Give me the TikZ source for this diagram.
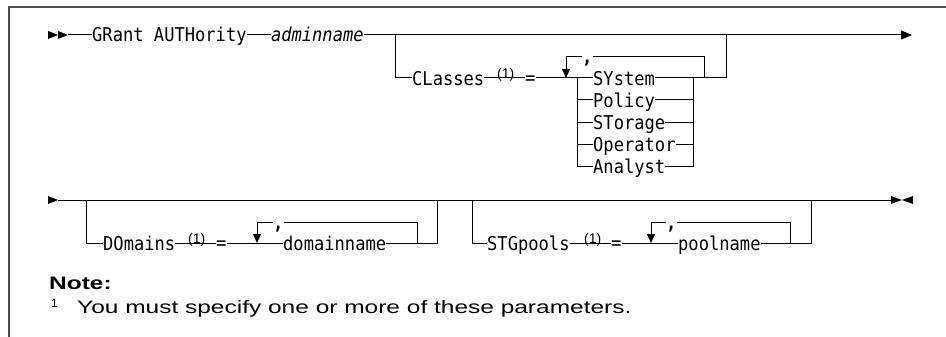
\documentclass[tikz,border=0pt]{standalone}
\usepackage{fontspec}
\usepackage{tikz}
\usetikzlibrary{arrows.meta,positioning}
\newfontfamily\synfont[FakeStretch=0.9]{DejaVu Sans Mono}
\newfontfamily\notefont[FakeStretch=1.36]{Liberation Sans}
\newfontfamily\reffont{Liberation Sans}

\begin{document}
\begin{tikzpicture}[x=1pt,y=1pt,
kw/.style={inner sep=0pt,anchor=west,text height=14pt,text depth=0pt,font=\synfont\fontsize{19}{19}\selectfont},
eqsign/.style={kw,text height=13.3pt},
sep/.style={kw,font=\synfont\fontsize{19}{19}\selectfont\bfseries},
ref/.style={inner sep=0pt,anchor=base west,font=\reffont\fontsize{14}{14}\selectfont},
notehead/.style={inner sep=0pt,anchor=base west,font=\notefont\fontsize{18}{18}\selectfont\bfseries},
notetext/.style={inner sep=0pt,anchor=base west,font=\notefont\fontsize{18}{18}\selectfont},
rail/.style={line width=1pt},
rep/.style={rail,-{Triangle[length=9pt,width=8pt]}},
arrow/.style={rail,-{Triangle[length=11pt,width=9pt]}}
]
\useasboundingbox (0,0) rectangle (946,-337);
\draw[line width=1.5pt,black!70] (9,-337) -- (9,-7) -- (946,-7);

\coordinate (start1) at (48,-35);
\fill (start1) ++(0,4) -- ++(10,-4) -- ++(-10,-4) -- cycle;
\fill (start1) ++(10,4) -- ++(10,-4) -- ++(-10,-4) -- cycle;
\coordinate (from1) at (68,-35);
\node[kw] (grant) at (92,-35) {GRant AUTHority};
\node[kw,right=24pt of grant] (admin) {\itshape adminname};
\coordinate (end1) at (912,-35);
\coordinate (brA) at (395,-35);
\coordinate (brB) at (726,-35);
\node[kw] (cls) at (412,-78) {CLasses};
\node[ref] (clsref) at (497,-78) {(1)};
\node[eqsign] (clseq) at (525,-78) {=};
\node[sep] (clscomma) at (582,-57) {,};
\coordinate (clsdn) at (566,-78);
\coordinate (clsrep) at (704,-78);
\coordinate (stL) at (577,-78);
\coordinate (stR) at (693,-78);
\node[kw] (sys) at (593,-78) {SYstem};
\node[kw] (pol) at (593,-100) {Policy};
\node[kw] (sto) at (593,-122) {STorage};
\node[kw] (ope) at (593,-144) {Operator};
\node[kw] (ana) at (593,-166) {Analyst};
\draw[rail] (from1) -- (grant);
\draw[rail] (grant) -- (admin);
\draw[arrow] (admin) -- (end1);
\draw[rail] (brA) |- (cls);
\draw[rail] (cls) -- (clseq);
\draw[rail] (clseq) -- (sys);
\draw[rail] (sys) -| (brB);
\draw[rail] (stL) |- (ana);
\draw[rail] (stL |- pol) -- (pol);
\draw[rail] (stL |- sto) -- (sto);
\draw[rail] (stL |- ope) -- (ope);
\draw[rail] (ana) -| (stR);
\draw[rail] (pol) -- (stR |- pol);
\draw[rail] (sto) -- (stR |- sto);
\draw[rail] (ope) -- (stR |- ope);
\draw[rail] (clsrep) |- (clscomma);
\draw[rep] (clscomma) -| (clsdn);

\coordinate (start2) at (48,-200);
\fill (start2) ++(0,4) -- ++(10,-4) -- ++(-10,-4) -- cycle;
\coordinate (from2) at (58,-200);
\coordinate (end2) at (891,-200);
\fill (end2) ++(0,4) -- ++(11,-4) -- ++(-11,-4) -- cycle;
\fill (end2) ++(22,4) -- ++(-11,-4) -- ++(11,-4) -- cycle;
\draw[rail] (from2) -- (end2);

\coordinate (brC) at (86,-200);
\coordinate (brD) at (437,-200);
\node[kw] (dom) at (103,-243) {DOmains};
\node[ref] (domref) at (188,-243) {(1)};
\node[eqsign] (domeq) at (216,-243) {=};
\node[sep] (domcomma) at (273,-222) {,};
\coordinate (domdn) at (257,-243);
\coordinate (domrep) at (417,-243);
\node[kw] (domname) at (283,-243) {domainname};
\draw[rail] (brC) |- (dom);
\draw[rail] (dom) -- (domeq);
\draw[rail] (domeq) -- (domname);
\draw[rail] (domname) -| (brD);
\draw[rail] (domrep) |- (domcomma);
\draw[rep] (domcomma) -| (domdn);

\coordinate (brE) at (472,-200);
\coordinate (brF) at (811,-200);
\node[kw] (stg) at (487,-243) {STGpools};
\node[ref] (stgref) at (584,-243) {(1)};
\node[eqsign] (stgeq) at (611,-243) {=};
\node[sep] (stgcomma) at (666,-222) {,};
\coordinate (stgdn) at (651,-243);
\coordinate (stgrep) at (790,-243);
\node[kw] (pool) at (678,-243) {poolname};
\draw[rail] (brE) |- (stg);
\draw[rail] (stg) -- (stgeq);
\draw[rail] (stgeq) -- (pool);
\draw[rail] (pool) -| (brF);
\draw[rail] (stgrep) |- (stgcomma);
\draw[rep] (stgcomma) -| (stgdn);

\node[notehead] (note) at (49,-289) {Note:};
\node[ref,font=\reffont\fontsize{12}{12}\selectfont] (fnmark) at (51,-307) {1};
\node[notetext] (fntext) at (77,-313) {You must specify one or more of these parameters.};
\end{tikzpicture}
\end{document}
